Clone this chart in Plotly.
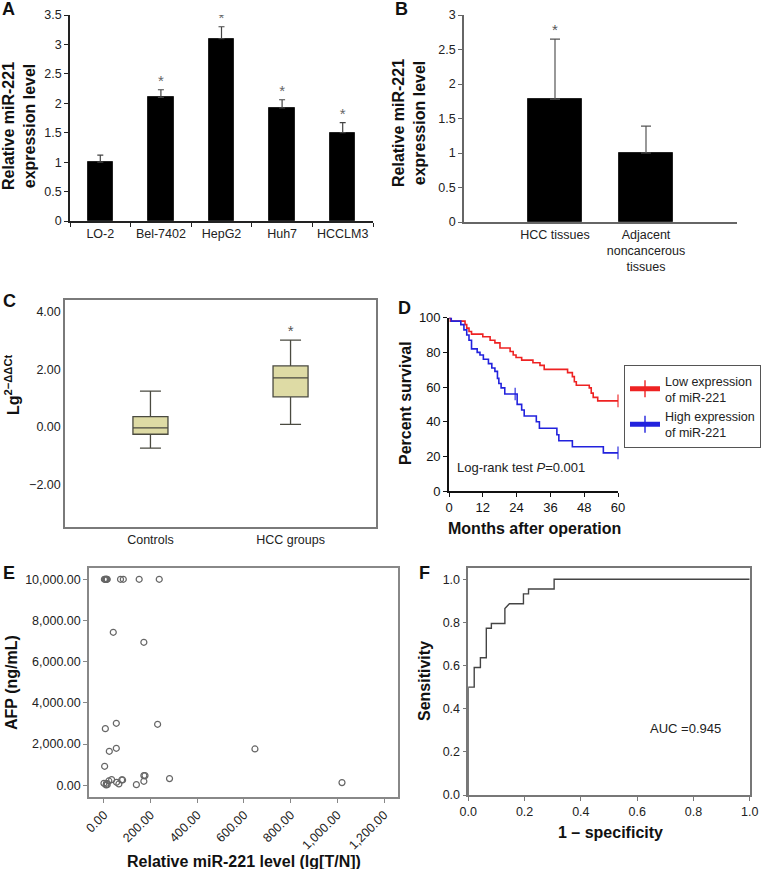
import plotly.graph_objects as go

W, H = 762, 869
FONT = "Liberation Sans, Arial, sans-serif"

# ---------------- data ----------------
# A: cell lines
a_cats = ["LO-2", "Bel-7402", "HepG2", "Huh7", "HCCLM3"]
a_vals = [1.0, 2.1, 3.1, 1.92, 1.5]
a_errs = [0.12, 0.13, 0.2, 0.14, 0.17]
a_sig = [False, True, True, True, True]

# B: tissues
b_cats = ["HCC tissues", "Adjacent<br>noncancerous<br>tissues"]
b_vals = [1.78, 1.0]
b_errs = [0.87, 0.39]
b_sig = [True, False]

# C: box plot stats
c_cats = ["Controls", "HCC groups"]
c_low = [-0.73, 0.09]
c_q1 = [-0.25, 1.05]
c_med = [-0.03, 1.71]
c_q3 = [0.36, 2.12]
c_high = [1.25, 3.02]

# D: Kaplan-Meier
d_low_t = [0, 0.5, 5.7, 6.3, 7.1, 8.0, 12.0, 14.6, 16.3, 18.1, 21.7, 22.8, 23.8, 25.8,
           29.8, 32.3, 33.8, 42.1, 43.8, 44.5, 45.2, 49.8, 50.5, 51.2, 52.8, 60]
d_low_s = [100, 98, 96, 94, 92, 90.5, 89, 87, 85.5, 82.5, 80.5, 78.5, 77, 75.5,
           74, 72.5, 70.2, 68.3, 66, 63, 61, 59.5, 56.5, 54, 52, 52]
d_low_cens = [0] * 25 + [1]
d_high_t = [0, 0.8, 4.2, 5.3, 6.3, 7.1, 8.0, 10.0, 11.0, 12.2, 14.0, 15.2, 16.3, 17.2,
            17.7, 18.5, 19.8, 23.5, 24.2, 25.8, 26.7, 31.0, 32.1, 38.3, 39.0, 43.8, 54.8, 60]
d_high_s = [100, 98, 96, 93, 90, 87, 82, 80, 78.5, 76, 73.5, 71, 69, 65,
            62, 59.5, 56, 56, 50, 46.7, 43.3, 40, 36.2, 32.5, 29, 25.5, 22, 22]
d_high_cens = [0] * 17 + [1] + [0] * 9 + [1]

# E: scatter AFP vs miR-221
e_x = [2, 5, 8, 10, 12, 14, 71, 83, 151, 237, 40, 171, 6, 53, 230, 23, 53, 647, 3,
       1020, 281, 171, 176, 171, 139, 76, 80, 64, 54, 33, 21, 11, 9, 0, 14]
e_y = [10000, 10000, 10000, 10000, 10000, 10000, 10000, 10000, 10000, 10000, 7427, 6941,
       2750, 3010, 2960, 1650, 1796, 1764, 922, 130, 324, 470, 470, 194, 32, 259, 259,
       65, 146, 275, 210, 97, 16, 97, 32]

# F: ROC curve
f_fpr = [0, 0, 0.021, 0.021, 0.043, 0.043, 0.064, 0.064, 0.082, 0.082, 0.13, 0.13,
         0.146, 0.196, 0.196, 0.214, 0.214, 0.305, 0.305, 1.0]
f_tpr = [0, 0.5, 0.5, 0.591, 0.591, 0.636, 0.636, 0.773, 0.773, 0.795, 0.795, 0.864,
         0.886, 0.886, 0.932, 0.932, 0.955, 0.955, 1.0, 1.0]


def px(x):
    return x / W


def py(y):
    return 1 - y / H


fig = go.Figure()

# ---- A ----
fig.add_trace(go.Bar(x=a_cats, y=a_vals, width=0.42, marker=dict(color="black", line=dict(color="#222", width=1)),
                     error_y=dict(type="data", symmetric=False, array=a_errs, arrayminus=[0] * len(a_errs),
                                  color="#444", thickness=1.2, width=3),
                     xaxis="x", yaxis="y", showlegend=False))
fig.add_trace(go.Scatter(x=[c for c, s in zip(a_cats, a_sig) if s],
                         y=[v + e for v, e, s in zip(a_vals, a_errs, a_sig) if s],
                         text=["*" for s in a_sig if s], mode="text",
                         textposition="top center", textfont=dict(size=15, color="#666", family=FONT),
                         xaxis="x", yaxis="y", showlegend=False))

# ---- B ----
fig.add_trace(go.Bar(x=[0, 1], y=b_vals, width=0.6, marker=dict(color="black", line=dict(color="#222", width=1)),
                     error_y=dict(type="data", symmetric=False, array=b_errs, arrayminus=[0] * len(b_errs),
                                  color="#555", thickness=1.2, width=5),
                     xaxis="x2", yaxis="y2", showlegend=False))
fig.add_trace(go.Scatter(x=[i for i, s in enumerate(b_sig) if s],
                         y=[v + e for v, e, s in zip(b_vals, b_errs, b_sig) if s],
                         text=["*" for s in b_sig if s], mode="text",
                         textposition="top center", textfont=dict(size=15, color="#555", family=FONT),
                         xaxis="x2", yaxis="y2", showlegend=False))

# ---- C ----
for i in range(len(c_cats)):
    fig.add_trace(go.Box(x=[i], q1=[c_q1[i]], median=[c_med[i]], q3=[c_q3[i]],
                         lowerfence=[c_low[i]], upperfence=[c_high[i]], width=0.25, whiskerwidth=0.6,
                         fillcolor="#dedba5", line=dict(color="#4a4a40", width=1.3),
                         xaxis="x3", yaxis="y3", showlegend=False, boxpoints=False))
fig.add_trace(go.Scatter(x=[1], y=[c_high[1]], text=["*"], mode="text", textposition="top center",
                         textfont=dict(size=15, color="#555", family=FONT),
                         xaxis="x3", yaxis="y3", showlegend=False))

# ---- D ----
fig.add_trace(go.Scatter(x=d_low_t, y=d_low_s, mode="lines+markers", line=dict(color="#ee2222", width=1.6, shape="hv"),
                         marker=dict(symbol="line-ns-open", size=[9 if c else 0 for c in d_low_cens],
                                     line=dict(color="#ee2222", width=1.6)), cliponaxis=False,
                         name="Low expression<br>of miR-221", xaxis="x4", yaxis="y4"))
fig.add_trace(go.Scatter(x=d_high_t, y=d_high_s, mode="lines+markers", line=dict(color="#2222dd", width=1.6, shape="hv"),
                         marker=dict(symbol="line-ns-open", size=[9 if c else 0 for c in d_high_cens],
                                     line=dict(color="#2222dd", width=1.6)), cliponaxis=False,
                         name="High expression<br>of miR-221", xaxis="x4", yaxis="y4"))

# ---- E ----
fig.add_trace(go.Scatter(x=e_x, y=e_y, mode="markers",
                         marker=dict(symbol="circle-open", size=6, color="#666", line=dict(width=1.2, color="#666")),
                         xaxis="x5", yaxis="y5", showlegend=False))

# ---- F ----
fig.add_trace(go.Scatter(x=f_fpr, y=f_tpr, mode="lines", line=dict(color="#444", width=1.4),
                         xaxis="x6", yaxis="y6", showlegend=False))

tickf = dict(family=FONT, size=12.5, color="#222")

common = dict(showgrid=False, zeroline=False, automargin=False)

layout = dict(
    width=W, height=H, margin=dict(l=0, r=0, t=0, b=0, pad=0, autoexpand=False),
    paper_bgcolor="white", plot_bgcolor="white", font=dict(family=FONT),
    bargap=0, boxmode="overlay",
    # A
    xaxis=dict(domain=[px(70), px(373)], anchor="y", type="category", range=[-0.5, 4.5],
               showline=True, linecolor="#222", linewidth=1.5, ticks="outside", tickson="boundaries",
               ticklen=4, tickcolor="#222", tickangle=0, tickfont=tickf, **common),
    yaxis=dict(domain=[py(221), py(15)], anchor="x", range=[0, 3.5], dtick=0.5,
               showline=True, linecolor="#222", linewidth=1.5, ticks="outside", ticklen=4, tickcolor="#222",
               tickfont=tickf, **common),
    # B
    xaxis2=dict(domain=[px(464), px(737)], anchor="y2", range=[-1, 2], tickvals=[0, 1], ticktext=b_cats,
                showline=True, linecolor="#666", linewidth=1.5, ticks="", tickangle=0, tickfont=tickf, **common),
    yaxis2=dict(domain=[py(222), py(15)], anchor="x2", range=[0, 3], dtick=0.5,
                showline=True, linecolor="#666", linewidth=1.5, ticks="outside", ticklen=4, tickcolor="#666",
                tickfont=tickf, **common),
    # C
    xaxis3=dict(domain=[px(65), px(376)], anchor="y3", range=[-0.61, 1.61], tickvals=[0, 1], ticktext=c_cats,
                showline=True, mirror=True, linecolor="#7a7a7a", linewidth=1.5, ticks="", tickangle=0,
                tickfont=tickf, **common),
    yaxis3=dict(domain=[py(527), py(300)], anchor="x3", range=[-3.47, 4.41], tickvals=[-2, 0, 2, 4],
                ticktext=["\u22122.00", "0.00", "2.00", "4.00"],
                showline=True, mirror=True, linecolor="#7a7a7a", linewidth=1.5, ticks="", tickfont=tickf, **common),
    # D
    xaxis4=dict(domain=[px(449), px(618)], anchor="y4", range=[0, 60], dtick=12,
                showline=True, linecolor="#111", linewidth=1.6, ticks="outside", ticklen=4, tickcolor="#111",
                tickwidth=1.4, tickangle=0, tickfont=dict(family=FONT, size=13, color="#111"), **common),
    yaxis4=dict(domain=[py(491), py(317.7)], anchor="x4", range=[0, 100], dtick=20,
                showline=True, linecolor="#111", linewidth=1.6, ticks="outside", ticklen=4, tickcolor="#111",
                tickwidth=1.4, tickfont=dict(family=FONT, size=13, color="#111"), **common),
    # E
    xaxis5=dict(domain=[px(89), px(398)], anchor="y5", range=[-64, 1260], tickvals=[0, 200, 400, 600, 800, 1000, 1200],
                tickformat=",.2f", tickangle=-45,
                showline=True, mirror=True, linecolor="#888", linewidth=1.5, ticks="outside", ticklen=4,
                tickcolor="#888", tickfont=tickf, **common),
    yaxis5=dict(domain=[py(797), py(568)], anchor="x5", range=[-568, 10548],
                tickvals=[0, 2000, 4000, 6000, 8000, 10000], tickformat=",.2f",
                showline=True, mirror=True, linecolor="#888", linewidth=1.5, ticks="outside", ticklen=4,
                tickcolor="#888", tickfont=tickf, **common),
    # F
    xaxis6=dict(domain=[px(468.3), px(749.7)], anchor="y6", range=[0, 1], dtick=0.2, tickformat=".1f",
                showline=True, mirror=True, linecolor="#777", linewidth=1.5, ticks="outside", ticklen=4,
                tickcolor="#777", tickangle=0, tickfont=tickf, **common),
    yaxis6=dict(domain=[py(795), py(568)], anchor="x6", range=[0, 1.052], tickvals=[0, 0.2, 0.4, 0.6, 0.8, 1.0],
                tickformat=".1f",
                showline=True, mirror=True, linecolor="#777", linewidth=1.5, ticks="outside", ticklen=4,
                tickcolor="#777", tickfont=tickf, **common),
    legend=dict(x=px(761), y=py(365), xanchor="right", yanchor="top", bordercolor="#555", borderwidth=1,
                bgcolor="white", font=dict(family=FONT, size=12.5, color="#222"), itemwidth=30,
                tracegroupgap=0, itemsizing="constant"),
)
fig.update_layout(**layout)

ann = []


def text_ann(x, y, t, size=16, bold=True, angle=0, color="#111", xanchor="center"):
    ann.append(dict(x=px(x), y=py(y), xref="paper", yref="paper", text=(f"<b>{t}</b>" if bold else t),
                    showarrow=False, textangle=angle, xanchor=xanchor, yanchor="middle",
                    font=dict(family=FONT, size=size, color=color)))


# panel letters
text_ann(8, 9, "A", size=18)
text_ann(401, 9, "B", size=18)
text_ann(9, 301, "C", size=18)
text_ann(404, 308, "D", size=18)
text_ann(9, 573, "E", size=18)
text_ann(424, 573, "F", size=18)

# axis titles
text_ann(19, 126, "Relative miR-221<br>expression level", angle=-90)
text_ann(409, 123, "Relative miR-221<br>expression level", angle=-90)
text_ann(12, 385, "Lg<sup>2\u2212\u0394\u0394Ct</sup>", angle=-90)
text_ann(405, 403, "Percent survival", angle=-90)
text_ann(534, 528, "Months after operation")
text_ann(11, 683, "AFP (ng/mL)", angle=-90)
text_ann(244, 861, "Relative miR-221 level (lg[T/N])")
text_ann(424, 681, "Sensitivity", angle=-90)
text_ann(610, 832, "1 \u2013 specificity")

# inner texts
text_ann(455, 467, "Log-rank test <i>P</i>=0.001", size=13, bold=False, color="#222", xanchor="left")
text_ann(685, 728, "AUC =0.945", size=13, bold=False, color="#222")

fig.update_layout(annotations=ann)

fig.write_html("out.html", config={"displayModeBar": False},
               post_script="document.body.style.margin='0';document.body.style.overflow='hidden';")
